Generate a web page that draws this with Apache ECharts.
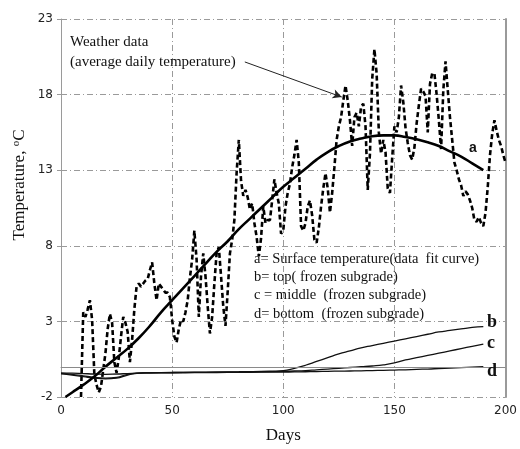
<!DOCTYPE html>
<html>
<head>
	<meta charset="utf-8" />
	<title>Temperature</title>
	<script src="https://cdn.jsdelivr.net/npm/echarts@6/dist/echarts.min.js"></script>
	<style>
		html, body { margin: 0; padding: 0; background: #fff; }
		#chart { width: 520px; height: 449px; }
	</style>
</head>
<body>
	<div id="chart"></div>
	<script type="text/javascript">
		/******************* data ******************/
		// weather data, one value a day starting at day 9
		var weatherStartDay = 9;
		var weatherTemps = [
			-2.0, 3.6, 3.3, 3.8, 4.4, 3.1, -0.5, -1.2, -1.7, -1.3,
			-0.2, 0.9, 2.5, 3.5, 2.9, 0.3, -0.4, 0.6, 2.0, 3.3,
			2.9, 2.3, 0.3, 1.8, 3.8, 5.3, 5.5, 5.3, 5.5, 5.7,
			5.8, 6.4, 6.9, 5.5, 4.4, 5.5, 5.3, 5.1, 4.9, 4.9,
			4.6, 3.1, 2.0, 1.6, 2.5, 3.1, 3.0, 3.6, 4.4, 5.9,
			7.1, 9.0, 7.1, 3.3, 6.0, 7.5, 6.0, 4.0, 2.2, 3.3,
			5.5, 7.5, 7.9, 6.0, 4.0, 2.7, 5.0, 7.5, 8.4, 9.7,
			12.8, 15.0, 12.3, 11.3, 11.7, 11.2, 10.4, 10.8, 9.5, 8.6,
			7.3, 8.5, 10.6, 9.5, 9.7, 9.7, 11.0, 12.4, 11.5, 10.8,
			8.8, 9.0, 10.6, 11.5, 12.1, 13.2, 14.0, 15.0, 13.5, 9.3,
			9.0, 9.5, 10.6, 11.0, 10.0, 8.4, 8.2, 9.2, 10.6, 11.8,
			12.8, 11.8, 10.2, 11.5, 13.2, 15.0, 15.9, 16.5, 17.6, 18.6,
			17.6, 16.3, 14.6, 16.5, 16.8, 15.9, 17.2, 17.4, 15.9, 11.7,
			14.1, 19.0, 21.0, 19.4, 15.5, 14.1, 15.0, 14.2, 11.8, 11.5,
			13.8, 15.9, 15.5, 16.5, 18.6, 17.5, 15.8, 14.8, 14.0, 13.7,
			14.5, 16.1, 17.3, 18.4, 18.2, 17.9, 15.5, 18.7, 19.4, 19.4,
			18.0, 16.3, 14.4, 18.3, 20.2, 18.3, 16.5, 15.0, 13.5, 13.0,
			12.4, 12.0, 11.3, 11.6, 11.4, 11.0, 10.5, 9.7, 9.6, 9.9,
			9.5, 9.3, 10.2, 11.9, 14.0, 15.4, 16.3, 15.6, 15.0, 14.6,
			14.0, 13.5
		];

		// a = surface temperature (fit curve)
		var fitDays = [2, 5, 10, 15, 20, 25, 30, 35, 40, 45, 50, 55, 60, 65, 70, 75, 80, 85, 90, 95,
			100, 105, 110, 115, 120, 125, 130, 135, 140, 145, 150, 155, 160, 165, 170, 175, 180, 185, 190];
		var fitTemps = [-2.0, -1.7, -1.2, -0.65, 0.0, 0.6, 1.2, 1.9, 2.7, 3.6, 4.4, 5.2, 6.0, 6.8, 7.6, 8.3, 9.1, 9.8, 10.5, 11.2,
			11.9, 12.5, 13.1, 13.7, 14.2, 14.6, 14.9, 15.1, 15.25, 15.3, 15.3, 15.2, 15.05, 14.85, 14.6, 14.25, 13.9, 13.45, 13.0];

		// b, c, d = frozen subgrade top / middle / bottom
		var subDays = [0, 5, 10, 15, 20, 25, 30, 35, 40, 50, 60, 70, 80, 90, 100, 105, 110, 115, 120, 125,
			130, 135, 140, 145, 150, 155, 160, 165, 170, 175, 180, 185, 190];
		var topTemps = [-0.45, -0.55, -0.65, -0.75, -0.8, -0.75, -0.55, -0.42, -0.4, -0.38, -0.36, -0.35, -0.33, -0.3, -0.25, -0.1, 0.1, 0.35, 0.6, 0.85,
			1.05, 1.25, 1.4, 1.55, 1.7, 1.85, 2.0, 2.15, 2.3, 2.4, 2.5, 2.6, 2.65];
		var midTemps = [-0.45, -0.5, -0.6, -0.7, -0.75, -0.7, -0.5, -0.42, -0.4, -0.38, -0.37, -0.36, -0.35, -0.33, -0.3, -0.28, -0.25, -0.2, -0.15, -0.1,
			-0.05, 0.0, 0.05, 0.12, 0.25, 0.45, 0.6, 0.75, 0.9, 1.05, 1.2, 1.35, 1.5];
		var botTemps = [-0.4, -0.42, -0.45, -0.48, -0.5, -0.48, -0.45, -0.42, -0.4, -0.4, -0.39, -0.38, -0.37, -0.36, -0.35, -0.34, -0.33, -0.32, -0.3, -0.29,
			-0.28, -0.27, -0.25, -0.24, -0.22, -0.2, -0.17, -0.15, -0.12, -0.09, -0.06, -0.03, 0.0];

		// arrow from the "Weather data" note to the curve
		var arrowFrom = [82.7, 20.16];
		var arrowTo = [126.3, 17.84];

		var legendLines = [
			'a= Surface temperature(data  fit curve)',
			'b= top( frozen subgrade)',
			'c = middle  (frozen subgrade)',
			'd= bottom  (frozen subgrade)'
		];

		function pairs(xs, ys) {
			var out = [];
			for (var i = 0; i < xs.length; i++) out.push([xs[i], ys[i]]);
			return out;
		}

		var weather = [];
		for (var i = 0; i < weatherTemps.length; i++) {
			weather.push([weatherStartDay + i, weatherTemps[i]]);
		}

		var serif = '"Liberation Serif", "Times New Roman", serif';
		var gridGray = '#9a9a9a';
		var dashDot = [6, 3, 1, 3];

		/******************* chart ******************/
		var dom = document.getElementById('chart');
		var myChart = echarts.init(dom, null, { renderer: 'canvas' });

		var option = {
			animation: false,
			backgroundColor: '#fff',
			grid: { left: 61, right: 14, top: 19, bottom: 52 },
			xAxis: {
				type: 'value',
				min: 0,
				max: 200,
				interval: 50,
				name: 'Days',
				nameLocation: 'middle',
				nameGap: 30,
				nameTextStyle: { fontFamily: serif, fontSize: 17, color: '#111' },
				axisLine: { lineStyle: { color: gridGray, width: 1 } },
				axisTick: { show: false },
				axisLabel: { margin: 8, fontFamily: 'DejaVu Sans', fontSize: 12, color: '#222' },
				splitLine: { show: true, lineStyle: { color: gridGray, type: dashDot, width: 1 } }
			},
			yAxis: [{
				type: 'value',
				min: -2,
				max: 23,
				interval: 5,
				axisLine: { show: true, lineStyle: { color: gridGray, width: 1 } },
				axisTick: { show: true, length: 4, lineStyle: { color: gridGray } },
				axisLabel: { margin: 8, fontFamily: 'DejaVu Sans', fontSize: 12, color: '#222' },
				splitLine: { show: true, lineStyle: { color: gridGray, type: dashDot, width: 1 } }
			}, {
				type: 'value',
				position: 'right',
				min: -2,
				max: 23,
				interval: 5,
				axisLine: { show: true, lineStyle: { color: gridGray, width: 2 } },
				axisTick: { show: false },
				axisLabel: { show: false },
				splitLine: { show: false }
			}],
			series: [
				{
					name: 'weather',
					type: 'line',
					data: weather,
					symbol: 'none',
					lineStyle: { color: '#000', width: 2.6, type: [5, 3] },
					markLine: {
						silent: true,
						symbol: ['none', 'arrow'],
						symbolSize: [7, 9],
						label: { show: false },
						lineStyle: { color: '#222', width: 1, type: 'solid' },
						data: [[{ coord: arrowFrom }, { coord: arrowTo }]]
					},
					z: 3
				},
				{
					name: 'a',
					type: 'line',
					data: pairs(fitDays, fitTemps),
					smooth: true,
					symbol: 'none',
					lineStyle: { color: '#000', width: 2.6 },
					z: 4
				},
				{
					name: 'b',
					type: 'line',
					data: pairs(subDays, topTemps),
					smooth: true,
					symbol: 'none',
					lineStyle: { color: '#111', width: 1.3 },
					markLine: {
						silent: true,
						symbol: 'none',
						label: { show: false },
						lineStyle: { color: '#8a8a8a', width: 1, type: 'solid' },
						data: [{ yAxis: 0 }]
					}
				},
				{
					name: 'c',
					type: 'line',
					data: pairs(subDays, midTemps),
					smooth: true,
					symbol: 'none',
					lineStyle: { color: '#111', width: 1.3 }
				},
				{
					name: 'd',
					type: 'line',
					data: pairs(subDays, botTemps),
					smooth: true,
					symbol: 'none',
					lineStyle: { color: '#111', width: 1.3 }
				}
			],
			graphic: [
				{
					type: 'text', x: 20, y: 185, rotation: Math.PI / 2,
					style: {
						text: 'Temperature, {sup|o}C', font: '17px ' + serif, fill: '#111',
						align: 'center', verticalAlign: 'middle',
						rich: { sup: { font: '11px ' + serif, fill: '#111', verticalAlign: 'top', padding: [0, 0, 8, 0] } }
					},
					z: 10
				},
				{ type: 'text', left: 70, top: 35, style: { text: 'Weather data', font: '15px ' + serif, fill: '#111' }, z: 10 },
				{ type: 'text', left: 70, top: 55, style: { text: '(average daily temperature)', font: '15px ' + serif, fill: '#111' }, z: 10 },
				{ type: 'text', left: 254, top: 252, style: { text: legendLines[0], font: '14.5px ' + serif, fill: '#111' }, z: 10 },
				{ type: 'text', left: 254, top: 270, style: { text: legendLines[1], font: '14.5px ' + serif, fill: '#111' }, z: 10 },
				{ type: 'text', left: 254, top: 288, style: { text: legendLines[2], font: '14.5px ' + serif, fill: '#111' }, z: 10 },
				{ type: 'text', left: 254, top: 307, style: { text: legendLines[3], font: '14.5px ' + serif, fill: '#111' }, z: 10 },
				{ type: 'text', left: 469, top: 141, style: { text: 'a', font: 'bold 14px "Liberation Sans", Arial, sans-serif', fill: '#111' }, z: 10 },
				{ type: 'text', left: 487, top: 313, style: { text: 'b', font: 'bold 18px ' + serif, fill: '#111' }, z: 10 },
				{ type: 'text', left: 487, top: 334, style: { text: 'c', font: 'bold 18px ' + serif, fill: '#111' }, z: 10 },
				{ type: 'text', left: 487, top: 362, style: { text: 'd', font: 'bold 18px ' + serif, fill: '#111' }, z: 10 }
			]
		};

		if (option && typeof option === 'object') {
			myChart.setOption(option);
		}

		window.addEventListener('resize', myChart.resize);
	</script>
</body>
</html>
